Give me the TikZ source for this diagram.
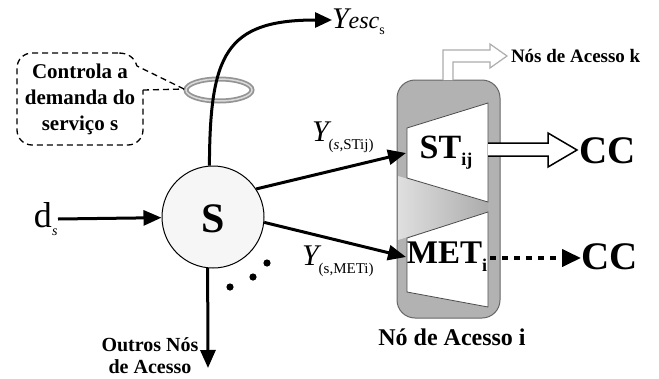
\documentclass[tikz,border=0pt]{standalone}
\usepackage{fontspec}
\setmainfont{Liberation Serif}
\usetikzlibrary{arrows.meta,shapes.geometric}
\newcommand\fsz[1]{\fontsize{#1}{#1}\selectfont}
\definecolor{boxgray}{gray}{0.70}
\definecolor{ringgray}{gray}{0.58}
\tikzset{
  arr/.style={line width=3pt,-{Triangle[length=18pt,width=15pt]}},
  trap/.style={draw=black!70,line width=0.8pt,fill=white},
  lbl/.style={inner sep=0pt,outer sep=0pt},
  callline/.style={dashed,line width=1.3pt,dash pattern=on 6pt off 4pt},
}
\begin{document}
\begin{tikzpicture}[x=1pt,y=-1pt]
\useasboundingbox (0,0) rectangle (659,378);

% control ring around the escape flow
\draw[ringgray,line width=5pt] (219,90) ellipse [x radius=33,y radius=11];
\draw[gray!30,line width=1.5pt] (219,90) ellipse [x radius=33,y radius=11];

% service node
\node[circle,draw,line width=1pt,fill=gray!7,minimum size=102pt] (S) at (213,217) {};
\node[lbl,font=\bfseries\fsz{42}] (Slbl) at (213,219) {S};

% access node body
\draw[draw=black!60,line width=1pt,fill=boxgray,rounded corners=18pt] (397,80) rectangle (500,318);
\shade[left color=gray!25,right color=gray!65] (398,176) -- (488,202) -- (488,212) -- (398,240) -- cycle;
\draw[trap] (407,128) -- (488,103) -- (488,202) -- (407,178) -- cycle;
\draw[trap] (407,238) -- (488,212) -- (488,307) -- (407,292) -- cycle;
\coordinate (stin) at (406,153);
\coordinate (metin) at (406,257);

% outlet towards other access nodes
\draw[gray!65,line width=1.2pt,fill=white,line join=miter]
  (443,80) -- (443,50) -- (490,50) -- (490,44) -- (507,56) -- (490,68) -- (490,62) -- (453,62) -- (453,80);
\node[lbl,anchor=west,font=\bfseries\fsz{19}] (nosk) at (511,56) {Nós de Acesso k};

% texts inside the access node
\node[lbl,font=\bfseries\fsz{34}] (st) at (446,153) {ST\raisebox{-7pt}{\fsz{18}ij}};
\node[lbl,font=\bfseries\fsz{33}] (met) at (447,257) {MET\raisebox{-8pt}{\fsz{18}i}};
\node[lbl,font=\bfseries\fsz{24}] (nai) at (452,337) {Nó de Acesso i};

% outputs to CC
\node[lbl,anchor=west,font=\bfseries\fsz{39}] (cc1) at (579,151) {CC};
\node[lbl,anchor=west,font=\bfseries\fsz{39}] (cc2) at (581,257) {CC};
\draw[black,line width=1.5pt,fill=white,line join=miter]
  (488,143) -- (548,143) -- (548,133) -- (577,150) -- (548,167) -- (548,156) -- (488,156);
\coordinate (metout) at (490,258);
\draw[line width=4pt,dash pattern=on 6pt off 6pt,-{Triangle[length=19pt,width=17pt]}] (metout) -- (cc2.west |- metout);

% flows leaving the service node
\coordinate (esc) at (332,20);
\draw[line width=3pt,-{Triangle[length=17pt,width=15pt]}] (S.94) .. controls (210,55) and (225,20) .. (esc);
\draw[arr] (S.33) -- (stin);
\draw[arr] (S.-6) -- (metin);
\coordinate (outros) at (208,368);
\draw[arr] (S.264) -- (outros);
\coordinate (dstail) at (58,219);
\draw[arr] (dstail) -- (S);

% labels of the flows
\node[lbl,anchor=base west] (yesc) at (332,28) {\fsz{30}\itshape Y\fsz{24}esc\raisebox{-6pt}{\upshape\fsz{14}s}};
\node[lbl,anchor=base west] (yst) at (312,141) {\fsz{30}\itshape Y\raisebox{-8pt}{\upshape\fsz{15}(\textit{s},STij)}};
\node[lbl,anchor=base west] (ymet) at (302,265) {\fsz{30}\itshape Y\raisebox{-8pt}{\upshape\fsz{15}(s,METi)}};
\node[lbl,anchor=base west] (ds) at (34,227) {\fsz{36}d\raisebox{-8pt}{\itshape\fsz{14}s}};
\node[lbl,align=center,font=\bfseries\fsz{20}] (outl) at (150,356) {Outros Nós\\[2pt]de Acesso};

% more outgoing flows
\fill (230,287) circle (3.6pt);
\fill (253,277) circle (3.6pt);
\fill (267,263) circle (3.6pt);

% callout attached to the ring
\node[lbl,align=center,font=\bfseries\fsz{21}] (callout) at (80,99) {Controla a\\[5pt]demanda do\\[5pt]serviço s};
\coordinate (ringtip) at (184,89);
\draw[callline,rounded corners=15pt] (118,53) -- (17,53) -- (17,145) -- (143,145) -- (143,90);
\draw[callline] (143,90) -- (ringtip);
\draw[callline] (ringtip) -- (137,66) .. controls (134,57) and (128,53) .. (118,53);
\end{tikzpicture}
\end{document}
